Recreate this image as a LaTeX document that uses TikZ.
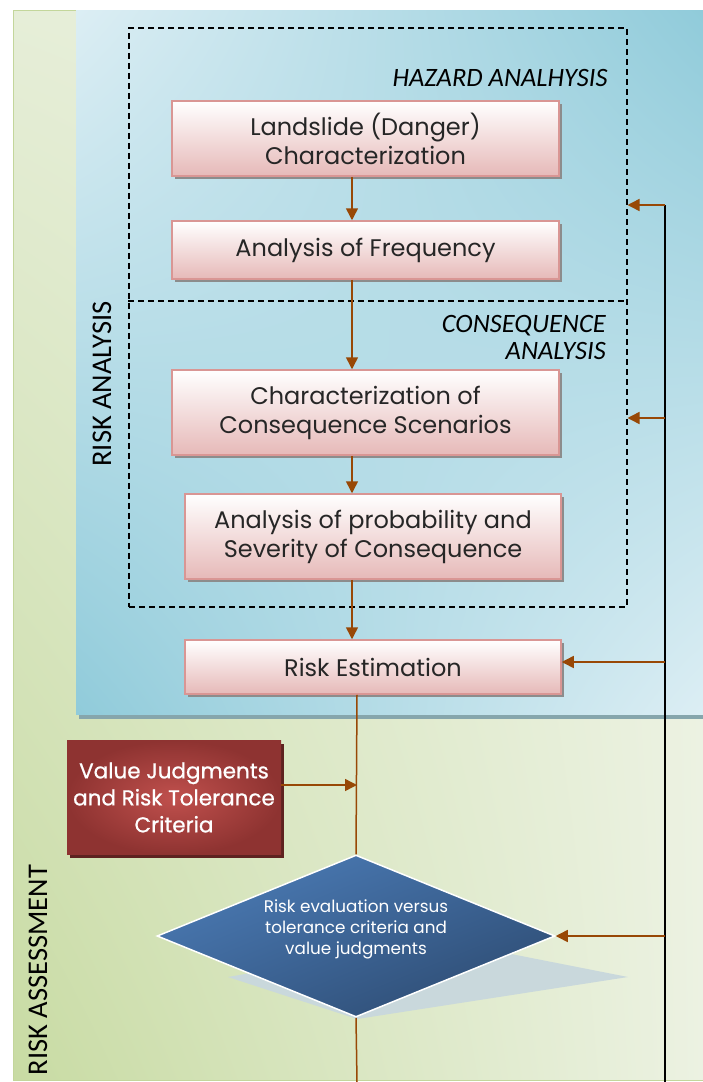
\documentclass[tikz,border=0pt]{standalone}
\usepackage{fontspec}
\setmainfont{Poppins}
\newfontfamily\lab{Carlito}
\newfontfamily\popmed[FakeBold=0.8]{Poppins}
\usetikzlibrary{shapes.geometric,arrows.meta,shadows,shadings}
\definecolor{grUL}{HTML}{E6EED8}
\definecolor{grUR}{HTML}{ECF2E2}
\definecolor{grLL}{HTML}{C8DBA3}
\definecolor{grLR}{HTML}{ECF2E2}
\definecolor{grEdge}{HTML}{C3D69B}
\definecolor{blUL}{HTML}{DCEEF4}
\definecolor{blUR}{HTML}{90CBDA}
\definecolor{blLL}{HTML}{90CBDA}
\definecolor{blLR}{HTML}{DCEEF4}
\definecolor{blShadow}{HTML}{86A6AC}
\definecolor{pinkTop}{HTML}{FFFFFF}
\definecolor{pinkBot}{HTML}{E6B9B8}
\definecolor{pinkEdge}{HTML}{D99694}
\definecolor{flowBrown}{HTML}{984806}
\definecolor{redIn}{HTML}{C0504D}
\definecolor{redOut}{HTML}{8E3331}
\definecolor{redShadow}{HTML}{5E2220}
\definecolor{diaUL}{HTML}{4F81BD}
\definecolor{diaLR}{HTML}{2A4568}
\definecolor{diaMid}{HTML}{3C6496}
\definecolor{diaShadow}{HTML}{C9D8DC}
\tikzset{
  pinkbox/.style={draw=pinkEdge, line width=1.5pt, top color=pinkTop, bottom color=pinkBot,
    drop shadow={shadow xshift=3pt, shadow yshift=-3pt, fill=black!45, opacity=1},
    inner sep=0pt, align=center, text=black!85, font=\fontsize{24}{29}\selectfont},
  flow/.style={draw=flowBrown, line width=1.5pt, -{Triangle[length=12pt,width=12pt]}},
  feedline/.style={draw=black, line width=1.5pt},
  sidelabel/.style={font=\lab\fontsize{28.5}{30}\selectfont, rotate=90},
  sublabel/.style={font=\lab\itshape\fontsize{26.5}{27}\selectfont, align=right},
}
\begin{document}
\begin{tikzpicture}[x=1pt,y=-1pt]
\useasboundingbox (0,0) rectangle (703,1082);
% green panel
\shade[upper left=grUL, upper right=grUR, lower left=grLL, lower right=grLR] (13,10) rectangle (703,1080);
\draw[grEdge, line width=1pt] (703,1080) -- (13,1080) -- (13,10) -- (703,10);
% blue panel
\fill[blShadow] (79,14) rectangle (706,719);
\shade[upper left=blUL, upper right=blUR, lower left=blLL, lower right=blLR] (76,10) rectangle (703,714);
% dashed frame
\node[draw, line width=1.5pt, dash pattern=on 6pt off 4pt, minimum width=498pt, minimum height=579pt, anchor=north west, inner sep=0pt] (hz) at (128,27) {};
\coordinate (divy) at (0,301);
\draw[line width=1.5pt, dash pattern=on 6pt off 4pt] (hz.west |- divy) -- (hz.east |- divy);
\node[sublabel, anchor=base east] (hzl) at (611,86) {HAZARD ANALHYSIS};
\node[sublabel, anchor=north east, inner sep=0pt] (csl) at (606,315) {CONSEQUENCE\\ANALYSIS};
\node[sidelabel] (ra) at (102,384) {RISK ANALYSIS};
\node[sidelabel] (rass) at (38,970) {RISK ASSESSMENT};
% boxes
\node[pinkbox, minimum width=387pt, minimum height=75pt] (b1) at (365.5,138.5) {Landslide (Danger)\\Characterization};
\node[pinkbox, minimum width=387pt, minimum height=58pt] (b2) at (365.5,250) {Analysis of Frequency};
\node[pinkbox, minimum width=387pt, minimum height=85pt] (b3) at (365.5,412.5) {Characterization of\\Consequence Scenarios};
\node[pinkbox, minimum width=376pt, minimum height=85pt] (b4) at (373,536.5) {Analysis of probability and\\Severity of Consequence};
\node[pinkbox, minimum width=376pt, minimum height=54pt] (b5) at (373,667) {Risk Estimation};
% value judgments box
\node[draw=none, inner color=redIn, outer color=redOut, minimum width=214pt, minimum height=114pt, inner sep=0pt,
  drop shadow={shadow xshift=3pt, shadow yshift=-3pt, fill=redShadow, opacity=1},
  text=white, align=center, font=\popmed\fontsize{21.5}{27}\selectfont] (vj) at (174,797.5) {Value Judgments\\and Risk Tolerance\\Criteria};
% diamond
\fill[diaShadow] (228,977) -- (440,940) -- (628,977) -- (357,1019) -- cycle;
\node[diamond, draw=white, line width=1.5pt, upper left=diaUL, lower right=diaLR, upper right=diaMid, lower left=diaMid,
  minimum width=398pt, minimum height=162pt, inner sep=0pt, aspect=2.46] (dia) at (356,936) {};
\node[text=white, align=center, font=\fontsize{16.8}{21}\selectfont] (diat) at (356,929) {Risk evaluation versus\\tolerance criteria and\\value judgments};
% main flow
\coordinate (ax) at (352,0);
\coordinate (bx) at (357,0);
\draw[flow] (b1.south -| ax) -- (b2.north -| ax);
\draw[flow] (b2.south -| ax) -- (b3.north -| ax);
\draw[flow] (b3.south -| ax) -- (b4.north -| ax);
\draw[flow] (b4.south -| ax) -- (b5.north -| ax);
\draw[draw=flowBrown, line width=1.5pt] (b5.south -| bx) -- (dia.north);
\coordinate (vjy) at (0,785);
\draw[flow] (vj.east |- vjy) -- (bx |- vjy);
\coordinate (bottom) at (357,1082);
\draw[draw=flowBrown, line width=1.5pt] (dia.south) -- (bottom);
% feedback loop
\coordinate (ftop) at (665,205);
\coordinate (fbot) at (665,1082);
\coordinate (f2) at (665,418);
\coordinate (f3) at (665,662);
\coordinate (f4) at (665,936);
\draw[feedline] (ftop) -- (fbot);
\draw[flow] (ftop) -- (hz.east |- ftop);
\draw[flow] (f2) -- (hz.east |- f2);
\draw[flow] (f3) -- (b5.east |- f3);
\draw[flow] (f4) -- (dia.east);
\end{tikzpicture}
\end{document}
